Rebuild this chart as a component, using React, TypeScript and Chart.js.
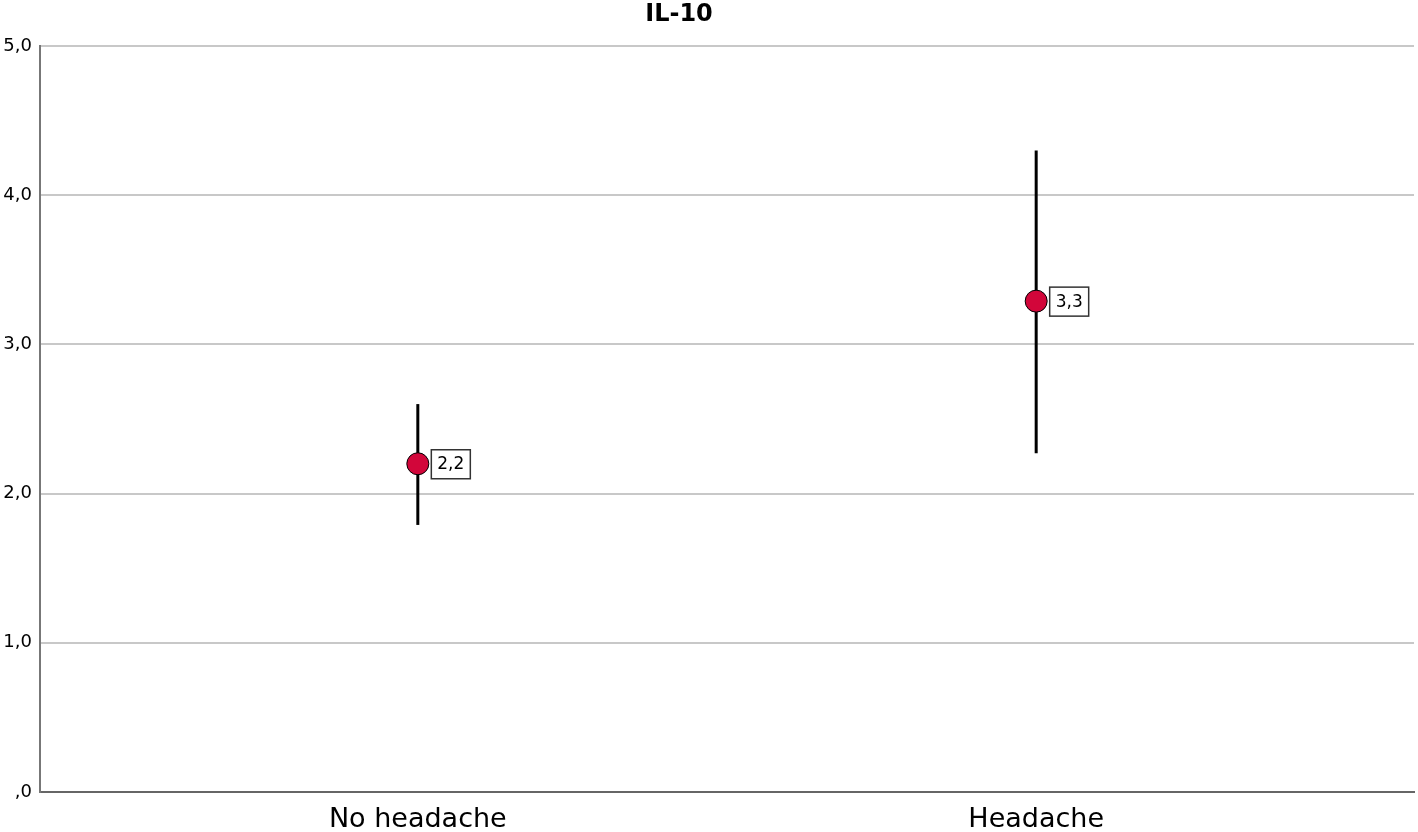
import React, { useEffect, useRef } from "react";
import { Chart, registerables } from "chart.js";

Chart.register(...registerables);

const categories = ["No headache", "Headache"];
const means = [2.2, 3.29];
const lowerCI = [1.79, 2.27];
const upperCI = [2.6, 4.3];
const meanLabels = ["2,2", "3,3"];
const yTicks = [0, 1, 2, 3, 4, 5];
const yTickLabels = [",0", "1,0", "2,0", "3,0", "4,0", "5,0"];
const titleText = "IL-10";

const FONT = "'DejaVu Sans', 'Noto Sans', sans-serif";

const errorBarPlugin = {
  id: "errorBars",
  beforeDatasetsDraw(chart: any) {
    const { ctx, scales } = chart;
    const xs = scales.x;
    const ys = scales.y;
    ctx.save();
    ctx.strokeStyle = "#000";
    ctx.lineWidth = 3;
    means.forEach((_, i) => {
      const x = xs.getPixelForValue(i + 1);
      ctx.beginPath();
      ctx.moveTo(x, ys.getPixelForValue(lowerCI[i]));
      ctx.lineTo(x, ys.getPixelForValue(upperCI[i]));
      ctx.stroke();
    });
    ctx.restore();
  },
  afterDatasetsDraw(chart: any) {
    const { ctx, scales } = chart;
    const xs = scales.x;
    const ys = scales.y;
    ctx.save();
    ctx.font = `17px ${FONT}`;
    means.forEach((m, i) => {
      const x = xs.getPixelForValue(i + 1) + 13;
      const y = ys.getPixelForValue(m);
      const w = 39;
      const h = 29;
      ctx.fillStyle = "#fff";
      ctx.fillRect(x, y - h / 2, w, h);
      ctx.strokeStyle = "#333";
      ctx.lineWidth = 1.5;
      ctx.strokeRect(x + 0.5, y - h / 2 + 0.5, w, h);
      ctx.fillStyle = "#000";
      ctx.textAlign = "center";
      ctx.textBaseline = "middle";
      ctx.fillText(meanLabels[i], x + w / 2 + 0.5, y + 1);
    });
    ctx.restore();
  },
  afterDraw(chart: any) {
    const { ctx } = chart;
    ctx.save();
    ctx.font = `bold 24px ${FONT}`;
    ctx.fillStyle = "#000";
    ctx.textAlign = "center";
    ctx.textBaseline = "middle";
    ctx.fillText(titleText, 679, 15);
    ctx.restore();
  },
};

export default function App() {
  const ref = useRef<HTMLCanvasElement | null>(null);
  useEffect(() => {
    if (!ref.current) return;
    const chart = new Chart(ref.current, {
      type: "scatter",
      data: {
        datasets: [
          {
            data: means.map((m, i) => ({ x: i + 1, y: m })),
            pointRadius: 11,
            pointHoverRadius: 11,
            backgroundColor: "#d2063a",
            borderColor: "#000",
            borderWidth: 1,
            clip: false,
          },
        ],
      },
      options: {
        responsive: false,
        animation: false,
        events: [],
        layout: { autoPadding: false, padding: { top: 46, right: 4, left: 0, bottom: 0 } },
        plugins: {
          legend: { display: false },
          tooltip: { enabled: false },
          title: { display: false },
        },
        scales: {
          x: {
            type: "linear",
            min: 0.389,
            max: 2.611,
            afterBuildTicks(scale: any) {
              scale.ticks = categories.map((_, i) => ({ value: i + 1 }));
            },
            afterFit(scale: any) {
              scale.height = 40;
              scale.paddingLeft = 0;
              scale.paddingRight = 0;
            },
            ticks: {
              autoSkip: false,
              maxRotation: 0,
              padding: 12,
              color: "#000",
              font: { family: FONT, size: 27 },
              callback: (v: any) => categories[Math.round(Number(v)) - 1] ?? "",
            },
            grid: { display: false, drawTicks: false },
            border: { display: true, color: "#666", width: 2 },
          },
          y: {
            type: "linear",
            min: 0,
            max: 5,
            afterBuildTicks(scale: any) {
              scale.ticks = yTicks.map((v) => ({ value: v }));
            },
            afterFit(scale: any) {
              scale.width = 40;
              scale.paddingTop = 0;
              scale.paddingBottom = 0;
            },
            ticks: {
              padding: 8,
              color: "#000",
              font: { family: FONT, size: 18 },
              callback: (v: any) => yTickLabels[yTicks.indexOf(Number(v))] ?? "",
            },
            grid: {
              color: (c: any) => (c.tick && c.tick.value === 0 ? "rgba(0,0,0,0)" : "#c8c8c8"),
              lineWidth: 2,
              drawTicks: false,
            },
            border: { display: true, color: "#777", width: 2 },
          },
        },
      },
      plugins: [errorBarPlugin],
    } as any);
    return () => chart.destroy();
  }, []);
  return (
    <div style={{ position: "fixed", left: 0, top: 0, width: 1418, height: 832, background: "#fff" }}>
      <canvas ref={ref} width={1418} height={832} style={{ display: "block" }} />
    </div>
  );
}
